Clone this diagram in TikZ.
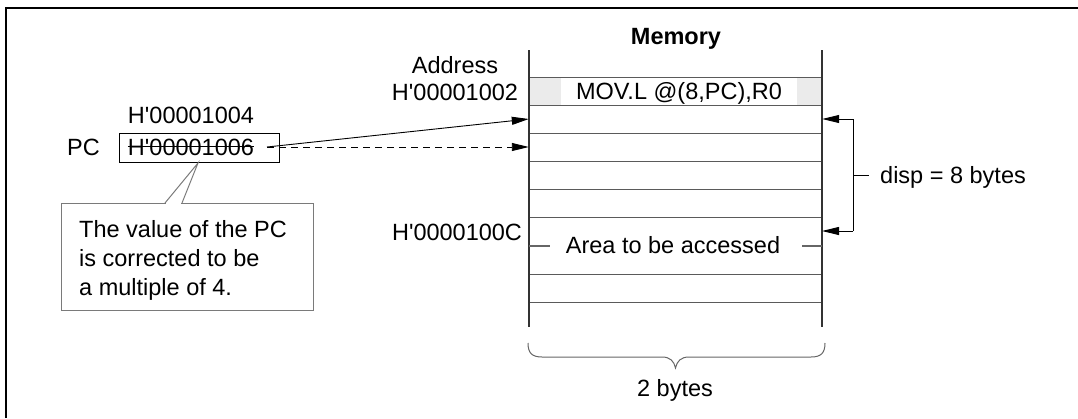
\documentclass[tikz,border=0pt]{standalone}
\usepackage{fontspec}
\newfontfamily\arialf{Liberation Sans}
\usetikzlibrary{arrows.meta}
\definecolor{rowline}{HTML}{5A5A5A}
\definecolor{colline}{HTML}{333333}
\definecolor{grayfill}{HTML}{EBEBEB}
\definecolor{callgray}{HTML}{7A7A7A}
\definecolor{bracecol}{HTML}{666666}
\begin{document}
\begin{tikzpicture}[x=1pt,y=-1pt,
  lbl/.style={inner sep=0pt, font=\arialf\fontsize{23.5}{28}\selectfont, text=black},
  boldlbl/.style={lbl, font=\arialf\bfseries\fontsize{23.5}{28}\selectfont},
  rowln/.style={draw=rowline, line width=1pt},
  colln/.style={draw=colline, line width=1.3pt},
  dashln/.style={draw=bracecol, line width=1.2pt},
  arr/.style={line width=0.9pt, -{Triangle[length=17pt,width=8pt]}},
  rowcell/.style={minimum width=293pt, minimum height=28pt, inner sep=0pt},
  callbox/.style={draw=callgray, line width=1pt, fill=white, minimum width=252pt, minimum height=107pt, inner sep=0pt},
]
\useasboundingbox (0,0) rectangle (1078,418);
% frame
\draw[line width=2pt] (6,418) -- (6,7.5) -- (1078,7.5);

% memory column
\fill[grayfill] (529,77) rectangle (822,105);
\node[lbl, fill=white, minimum width=236pt, minimum height=28pt, text height=17pt, text depth=0pt] (mov) at (679,91) {MOV.L @(8,PC),R0};
\foreach \yy in {77,105,133,161,189,217,274,302}
  \draw[rowln] (529,\yy) -- (822,\yy);
\draw[colln] (529,50) -- (529,327);
\draw[colln] (822,50) -- (822,327);
\node[rowcell] (r1) at (675.5,119) {};
\node[rowcell] (r2) at (675.5,147) {};
\node[lbl, anchor=base] (area) at (673,253) {Area to be accessed};
\draw[dashln] (529,246) -- (550,246);
\draw[dashln] (802,246) -- (822,246);
\coordinate (acc) at (822,231);

% labels
\node[boldlbl, anchor=base] (mem) at (676,44) {Memory};
\node[lbl, anchor=base] (addr) at (455,73) {Address};
\node[lbl, anchor=base] (a1002) at (455,100) {H'00001002};
\node[lbl, anchor=base] (a100c) at (457,240) {H'0000100C};
\node[lbl, anchor=base] (a1004) at (191,123) {H'00001004};

% PC box
\node[draw=black, line width=1pt, minimum width=160pt, minimum height=29pt, inner sep=0pt] (pcbox) at (199,147.5) {};
\node[lbl, anchor=base] (old) at (191,155) {H'00001006};
\draw[line width=1pt] ([yshift=9pt]old.base west) -- ([yshift=9pt]old.base east);
\node[lbl, anchor=base east] (pc) at (100,155) {PC};

% callout
\node[callbox] (note) at (187,256.5) {};
\coordinate (tip) at (198,163);
\draw[white, line width=2pt] (166,203) -- (181,203);
\draw[callgray, line width=1pt] (165,203) -- (tip) -- (182,203);
\node[lbl, anchor=base west] (n1) at (79,237) {The value of the PC};
\node[lbl, anchor=base west] (n2) at (79,266) {is corrected to be};
\node[lbl, anchor=base west] (n3) at (79,295) {a multiple of 4.};

% connectors from PC
\coordinate (pcout) at (267,147);
\draw[arr] (pcout) -- (r1.west);
\draw[arr, dash pattern=on 7pt off 5pt] (pcout) -- (r2.west);

% displacement bracket
\coordinate (bt) at (853,119);
\coordinate (bb) at (853,231);
\coordinate (tickend) at (869,175);
\draw[arr] (bt) -- (r1.east);
\draw[arr] (bb) -- (acc);
\draw[line width=0.9pt] (bt) -- (bb);
\draw[line width=0.9pt] (bb |- tickend) -- (tickend);
\node[lbl, anchor=base west] (disp) at (880,183) {disp = 8 bytes};

% brace
\draw[bracecol, line width=1pt] (528,343) .. controls (528,353) and (532,357) .. (542,357) -- (662,357)
  .. controls (670,357) and (674,361) .. (675.5,368)
  .. controls (677,361) and (681,357) .. (689,357) -- (811,357)
  .. controls (821,357) and (825,353) .. (825,343);
\node[lbl, anchor=base] (twob) at (675,396) {2 bytes};
\end{tikzpicture}
\end{document}
